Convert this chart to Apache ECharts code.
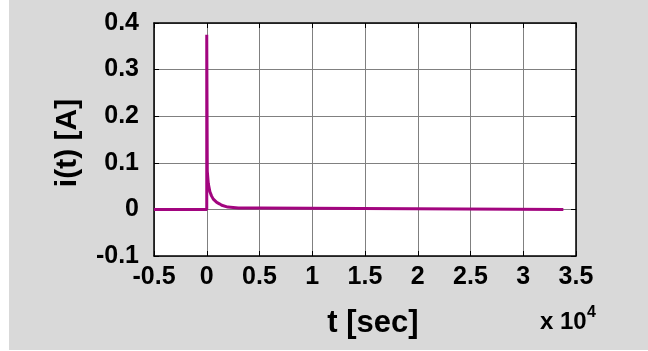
<!DOCTYPE html>
<html>
<head>
<meta charset="utf-8">
<script src="https://cdn.jsdelivr.net/npm/echarts@6/dist/echarts.min.js"></script>
<style>
  html, body { margin: 0; padding: 0; background: #ffffff; }
  #chart { width: 648px; height: 351px; }
</style>
</head>
<body>
<div id="chart"></div>
<script>
// Time samples (seconds) and current (amperes) of the transient response
const tSec = [-5000, 0, 0, 50, 150, 300, 450, 620, 800, 950, 1200, 1420, 2000, 3000, 5000, 5000, 33800];
const iAmp = [0, 0, 0.375, 0.082, 0.055, 0.038, 0.029, 0.022, 0.018, 0.015, 0.012, 0.009, 0.005, 0.003, 0.003, 0, 0];

// Axis ranges and tick spacing
const xMin = -5000, xMax = 35000, xStep = 5000;
const yMin = -0.1, yMax = 0.4, yStep = 0.1;
const xScale = 1e4;

const xTitle = 't [sec]';
const yTitle = 'i(t) [A]';
const xExponentBase = 'x 10';
const xExponent = '4';

const points = tSec.map((t, k) => [t, iAmp[k]]);

const FONT = 'Liberation Sans, Arial, sans-serif';
const tickFont = { fontFamily: FONT, fontWeight: 'bold', fontSize: 25, color: '#000' };

const chart = echarts.init(document.getElementById('chart'), null, { renderer: 'canvas' });

// Box frame on the top and right sides with inward ticks
const frameAxisX = (pos) => ({
  type: 'value', min: xMin, max: xMax, interval: xStep, position: pos,
  axisLine: { show: true, onZero: false, lineStyle: { color: '#000', width: 1.5 } },
  axisTick: { show: true, inside: true, length: 5, lineStyle: { color: '#000', width: 1 } },
  splitLine: { show: false }, axisLabel: { show: false }
});
const frameAxisY = (pos) => ({
  type: 'value', min: yMin, max: yMax, interval: yStep, position: pos,
  axisLine: { show: true, onZero: false, lineStyle: { color: '#000', width: 1.5 } },
  axisTick: { show: true, inside: true, length: 5, lineStyle: { color: '#000', width: 1 } },
  splitLine: { show: false }, axisLabel: { show: false }
});

chart.setOption({
  animation: false,
  backgroundColor: '#ffffff',
  graphic: [
    { type: 'rect', z: -10, silent: true, shape: { x: 9, y: 0, width: 639, height: 350 }, style: { fill: '#d9d9d9' } },
    { type: 'rect', z: -5, silent: true, shape: { x: 154, y: 23, width: 422, height: 233 }, style: { fill: '#ffffff' } },
    { type: 'text', silent: true,
      style: { text: xTitle, x: 373, y: 323, textAlign: 'center', textVerticalAlign: 'middle',
               font: 'bold 31px ' + FONT, fill: '#000' } },
    { type: 'text', silent: true, rotation: Math.PI / 2, x: 68, y: 143,
      style: { text: yTitle, x: 0, y: 0, textAlign: 'center', textVerticalAlign: 'middle',
               font: 'bold 30px ' + FONT, fill: '#000' } },
    { type: 'text', silent: true,
      style: { text: xExponentBase, x: 540, y: 322, textAlign: 'left', textVerticalAlign: 'middle',
               font: 'bold 24px ' + FONT, fill: '#000' } },
    { type: 'text', silent: true,
      style: { text: xExponent, x: 587, y: 313, textAlign: 'left', textVerticalAlign: 'middle',
               font: 'bold 16px ' + FONT, fill: '#000' } }
  ],
  grid: { left: 154, right: 72, top: 23, bottom: 95, containLabel: false },
  xAxis: [
    {
      type: 'value', min: xMin, max: xMax, interval: xStep, position: 'bottom',
      axisLine: { show: true, onZero: false, lineStyle: { color: '#000', width: 1.5 } },
      axisTick: { show: true, inside: true, length: 5, lineStyle: { color: '#000', width: 1 } },
      splitLine: { show: true, lineStyle: { color: '#808080', width: 1 } },
      axisLabel: Object.assign({ margin: 9, formatter: v => String(Math.round(v / xScale * 10) / 10) }, tickFont)
    },
    frameAxisX('top')
  ],
  yAxis: [
    {
      type: 'value', min: yMin, max: yMax, interval: yStep, position: 'left',
      axisLine: { show: true, onZero: false, lineStyle: { color: '#000', width: 1.5 } },
      axisTick: { show: true, inside: true, length: 5, lineStyle: { color: '#000', width: 1 } },
      splitLine: { show: true, lineStyle: { color: '#808080', width: 1 } },
      axisLabel: Object.assign({ margin: 15, formatter: v => Math.abs(v) < 1e-9 ? '0' : v.toFixed(1) }, tickFont)
    },
    frameAxisY('right')
  ],
  series: [{
    type: 'line',
    xAxisIndex: 0, yAxisIndex: 0,
    data: points,
    showSymbol: false,
    symbol: 'none',
    lineStyle: { color: '#a2057f', width: 3 },
    clip: true,
    z: 5
  }]
});
</script>
</body>
</html>
